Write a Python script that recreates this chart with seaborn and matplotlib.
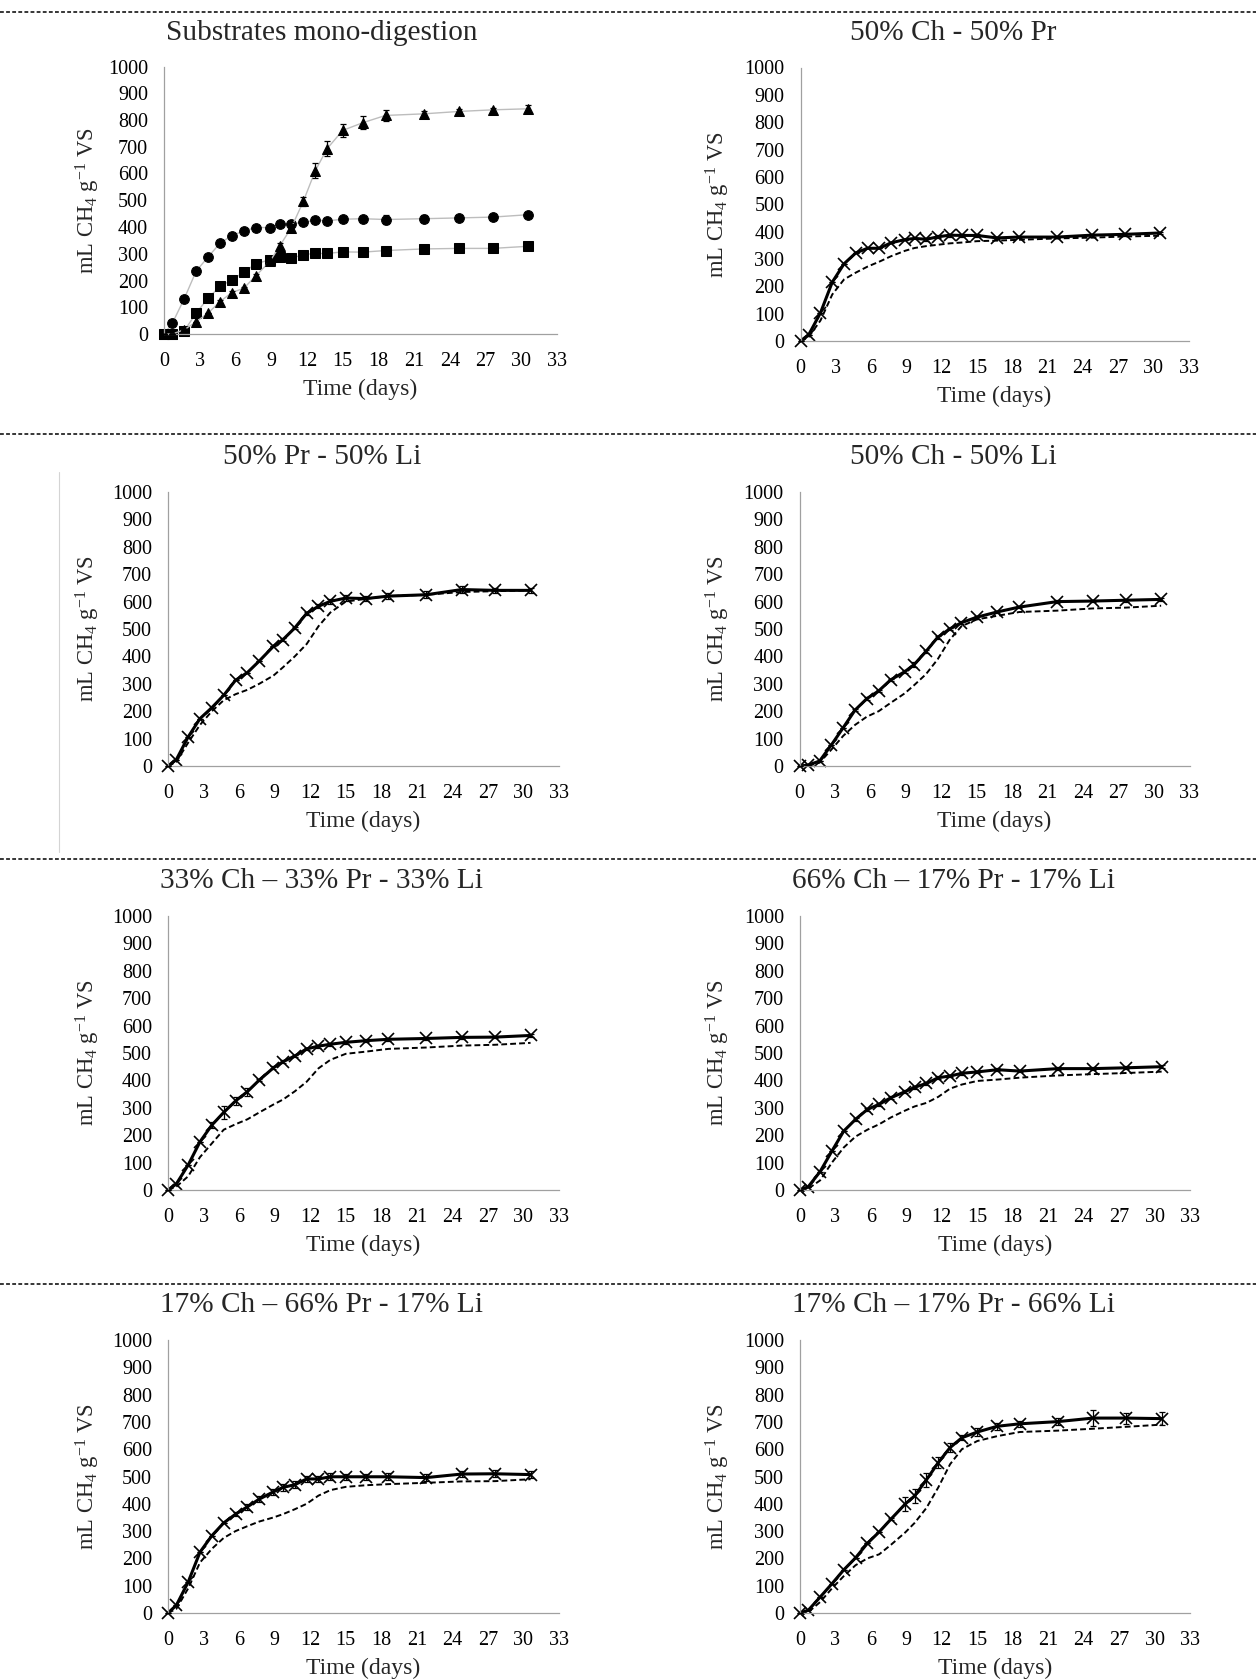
import matplotlib
matplotlib.use("Agg")
import matplotlib.pyplot as plt
from matplotlib.lines import Line2D
import seaborn as sns
import numpy as np
import pandas as pd

# ---------------- data ----------------
time_days = [0, 0.7, 1.7, 2.7, 3.7, 4.7, 5.7, 6.7, 7.7, 8.9, 9.7, 10.7,
             11.7, 12.7, 13.7, 15.0, 16.7, 18.6, 21.8, 24.8, 27.6, 30.6]

# mono-digestion
mono_circle = [0, 40, 132, 235, 288, 339, 368, 385, 398, 398, 411, 413, 417, 426, 423, 429, 431, 428, 431, 434, 437, 446]
mono_circle_err = [0, 0, 0, 0, 0, 0, 0, 0, 5, 5, 5, 5, 5, 5, 5, 5, 8, 15, 12, 8, 10, 8]
mono_square = [0, 0, 12, 78, 134, 178, 202, 231, 262, 278, 287, 283, 297, 301, 301, 307, 306, 312, 318, 320, 320, 328]
mono_square_err = [0, 0, 0, 0, 3, 3, 3, 3, 4, 4, 4, 4, 4, 4, 4, 4, 4, 5, 5, 5, 5, 5]
mono_triangle = [0, 0, 16, 46, 78, 121, 155, 171, 217, 272, 328, 398, 496, 610, 693, 761, 790, 817, 823, 832, 838, 842]
mono_triangle_err = [0, 0, 0, 0, 0, 5, 5, 5, 8, 10, 12, 12, 18, 28, 28, 25, 25, 20, 10, 8, 8, 15]

# co-digestion: measured (solid, x markers) and expected (dashed)
chpr_meas = [0, 23, 103, 215, 282, 322, 339, 339, 359, 371, 375, 372, 381, 387, 386, 386, 377, 380, 380, 387, 390, 395]
chpr_exp = [0, 15, 75, 170, 225, 250, 272, 290, 310, 330, 340, 347, 352, 357, 360, 365, 367, 370, 375, 378, 382, 385]
chpr_err = [0, 0, 0, 0, 0, 0, 0, 0, 0, 0, 0, 5, 5, 5, 5, 5, 5, 5, 5, 5, 5, 5]

prli_meas = [0, 23, 106, 173, 213, 258, 313, 341, 383, 437, 461, 504, 557, 583, 601, 613, 611, 620, 625, 644, 641, 641]
prli_exp = [0, 15, 85, 150, 200, 240, 262, 278, 300, 330, 360, 400, 445, 510, 560, 600, 610, 620, 625, 635, 638, 641]
prli_err = [0, 0, 0, 0, 0, 0, 0, 0, 0, 0, 5, 5, 5, 8, 10, 10, 10, 12, 12, 12, 10, 8]

chli_meas = [0, 3, 18, 77, 140, 204, 246, 274, 314, 344, 370, 418, 470, 500, 523, 543, 562, 580, 600, 602, 605, 608]
chli_exp = [0, 0, 12, 60, 110, 150, 180, 200, 230, 265, 295, 335, 390, 460, 510, 535, 548, 562, 567, 575, 578, 585]
chli_err = [0, 0, 0, 0, 0, 5, 5, 5, 5, 5, 8, 5, 5, 5, 5, 5, 5, 5, 5, 5, 5, 5]

eq_meas = [0, 22, 91, 176, 237, 283, 325, 359, 401, 446, 468, 489, 515, 525, 532, 539, 545, 550, 553, 557, 558, 564]
eq_exp = [0, 12, 50, 120, 170, 220, 240, 258, 283, 312, 330, 360, 395, 444, 475, 497, 505, 515, 520, 527, 530, 537]
eq_err = [0, 0, 0, 0, 12, 25, 15, 15, 5, 5, 5, 5, 5, 5, 5, 5, 5, 5, 5, 5, 5, 5]

ch66_meas = [0, 12, 67, 142, 215, 258, 294, 313, 337, 359, 375, 389, 410, 416, 426, 431, 439, 434, 443, 443, 446, 450]
ch66_exp = [0, 5, 35, 100, 155, 195, 220, 240, 265, 290, 305, 318, 340, 370, 385, 398, 403, 410, 418, 423, 427, 432]
ch66_err = [0, 0, 0, 0, 0, 5, 5, 5, 5, 5, 5, 5, 5, 5, 5, 5, 5, 5, 5, 5, 5, 5]

pr66_meas = [0, 28, 113, 223, 283, 330, 362, 389, 417, 444, 460, 470, 491, 491, 499, 499, 499, 499, 496, 509, 510, 507]
pr66_exp = [0, 15, 90, 185, 235, 275, 300, 318, 335, 350, 362, 380, 400, 430, 450, 462, 468, 472, 477, 482, 483, 490]
pr66_err = [0, 0, 0, 0, 0, 0, 8, 10, 12, 12, 12, 12, 12, 12, 12, 10, 10, 12, 12, 12, 12, 12]

li66_meas = [0, 10, 58, 107, 158, 202, 255, 297, 344, 399, 429, 488, 551, 606, 642, 663, 684, 693, 701, 714, 714, 712]
li66_exp = [0, 3, 40, 90, 135, 175, 200, 215, 250, 295, 330, 385, 460, 545, 600, 630, 648, 663, 668, 675, 682, 690]
li66_err = [0, 0, 0, 0, 0, 0, 0, 0, 5, 25, 25, 25, 20, 15, 10, 15, 12, 12, 12, 30, 20, 25]

panel_titles = ["Substrates mono-digestion", "50% Ch - 50% Pr",
                "50% Pr - 50% Li", "50% Ch - 50% Li",
                "33% Ch \u2013 33% Pr - 33% Li", "66% Ch \u2013 17% Pr - 17% Li",
                "17% Ch \u2013 66% Pr - 17% Li", "17% Ch \u2013 17% Pr - 66% Li"]
x_ticks = [0, 3, 6, 9, 12, 15, 18, 21, 24, 27, 30, 33]
y_ticks = [0, 100, 200, 300, 400, 500, 600, 700, 800, 900, 1000]
x_label = "Time (days)"
y_label = r"mL CH$_4$ g$^{-1}$ VS"

# ---------------- style ----------------
sns.set_theme(style="white")
plt.rcParams["font.family"] = ["Liberation Serif", "DejaVu Serif"]
plt.rcParams["mathtext.fontset"] = "custom"
plt.rcParams["mathtext.rm"] = "Liberation Serif"
plt.rcParams["mathtext.it"] = "Liberation Serif:italic"
plt.rcParams["mathtext.default"] = "rm"

W, H = 1256, 1680
fig = plt.figure(figsize=(W / 100, H / 100), dpi=100)
fig.patch.set_facecolor("white")

# axes rectangles in pixels: left, right, top (y=1000), bottom (y=0)
rects = [
    (164, 557, 66.5, 334), (800.5, 1188.5, 67.5, 341),
    (168, 559, 492, 766), (799.5, 1189.5, 492, 766),
    (168, 559, 916, 1190), (800, 1190, 916, 1190),
    (168, 559, 1340, 1613), (800, 1190, 1340, 1613),
]
title_y = [33, 33, 457, 457, 881, 881, 1305, 1305]
title_x = [322, 953] * 4
ylab_x = [88, 718] * 4

spine_col = "#a0a0a0"

def make_ax(i):
    L, R, T, B = rects[i]
    ax = fig.add_axes([L / W, 1 - B / H, (R - L) / W, (B - T) / H])
    ax.set_facecolor("none")
    ax.set_xlim(0, 33)
    ax.set_ylim(0, 1000)
    ax.set_xticks(x_ticks)
    ax.set_yticks(y_ticks)
    for s in ["top", "right"]:
        ax.spines[s].set_visible(False)
    for s in ["left", "bottom"]:
        ax.spines[s].set_color(spine_col)
        ax.spines[s].set_linewidth(0.9)
    ax.tick_params(axis="both", direction="out", length=3.6, width=0.8,
                   color=spine_col, labelsize=14.5, labelcolor="black")
    ax.tick_params(axis="y", pad=8)
    ax.tick_params(axis="x", pad=9.5)
    ax.grid(False)
    fig.text(title_x[i] / W, 1 - title_y[i] / H, panel_titles[i], fontsize=21.1,
             ha="center", va="center")
    return ax

def finish_labels(ax, i):
    L, R, T, B = rects[i]
    ax.set_xlabel(x_label, fontsize=17)
    ax.xaxis.set_label_coords(0.5, -55 / (B - T))
    ax.xaxis.label.set_va("center")
    ax.set_ylabel(y_label, fontsize=16.3)
    ax.yaxis.set_label_coords((ylab_x[i] - L) / (R - L), 0.5)
    ax.yaxis.label.set_va("center")
    ax.yaxis.label.set_ha("center")

t = np.array(time_days)

# ---- panel 1: mono-digestion ----
ax = make_ax(0)
for vals, errs, mk, ms in [(mono_circle, mono_circle_err, "o", 7),
                           (mono_square, mono_square_err, "s", 6.5),
                           (mono_triangle, mono_triangle_err, "^", 7)]:
    df = pd.DataFrame({"t": t, "v": vals})
    sns.lineplot(data=df, x="t", y="v", ax=ax, color="#bdbdbd", linewidth=1.0,
                 marker=mk, markersize=ms, markerfacecolor="black",
                 markeredgecolor="black", errorbar=None, sort=False, clip_on=False)
    ax.errorbar(t, vals, yerr=errs, fmt="none", ecolor="black", elinewidth=0.9,
                capsize=2.5, capthick=0.9, clip_on=False, zorder=4)
finish_labels(ax, 0)

# ---- co-digestion panels ----
co_data = [(chpr_meas, chpr_exp, chpr_err), (prli_meas, prli_exp, prli_err),
           (chli_meas, chli_exp, chli_err), (eq_meas, eq_exp, eq_err),
           (ch66_meas, ch66_exp, ch66_err), (pr66_meas, pr66_exp, pr66_err),
           (li66_meas, li66_exp, li66_err)]
for k, (meas, expv, errs) in enumerate(co_data):
    ax = make_ax(k + 1)
    df = pd.DataFrame({"t": t, "meas": meas, "exp": expv})
    sns.lineplot(data=df, x="t", y="exp", ax=ax, color="black", linewidth=1.4,
                 linestyle=(0, (3.0, 1.6)), errorbar=None, sort=False, clip_on=False)
    sns.lineplot(data=df, x="t", y="meas", ax=ax, color="black", linewidth=2.2,
                 marker="x", markersize=8, markeredgewidth=1.2,
                 markeredgecolor="black", errorbar=None, sort=False, clip_on=False)
    ax.errorbar(t, meas, yerr=errs, fmt="none", ecolor="black", elinewidth=0.9,
                capsize=2.5, capthick=0.9, clip_on=False, zorder=4)
    finish_labels(ax, k + 1)

# ---- separators ----
for ysep in [12, 434, 859, 1284]:
    fig.add_artist(Line2D([0, 1], [1 - ysep / H, 1 - ysep / H], transform=fig.transFigure,
                          color="black", linewidth=1.1, linestyle=(0, (2.5, 1.5))))
# thin vertical artefact line
fig.add_artist(Line2D([59 / W, 59 / W], [1 - 472 / H, 1 - 852 / H], transform=fig.transFigure,
                      color="#d4d4d4", linewidth=0.8))

fig.savefig("out.png", dpi=100, facecolor="white")
